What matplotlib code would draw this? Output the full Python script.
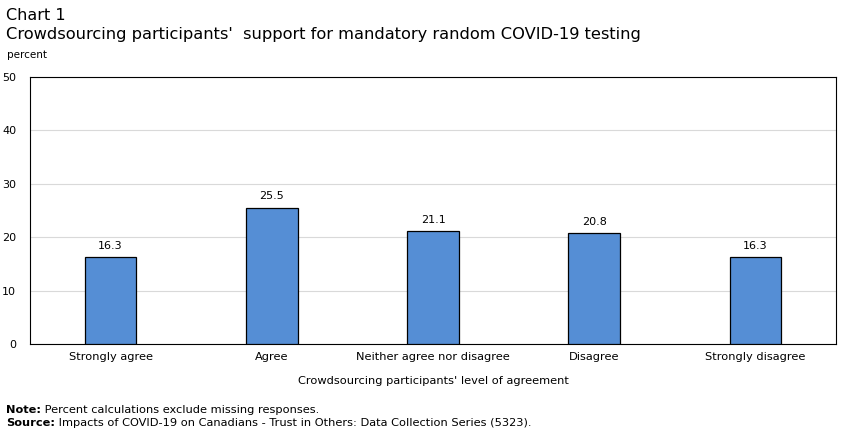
import matplotlib
matplotlib.use("Agg")
import matplotlib.pyplot as plt

categories = ["Strongly agree", "Agree", "Neither agree nor disagree", "Disagree", "Strongly disagree"]
values = [16.3, 25.5, 21.1, 20.8, 16.3]
yticks = [0, 10, 20, 30, 40, 50]

plt.rcParams['font.family'] = ['DejaVu Sans']

fig = plt.figure(figsize=(8.52, 4.36), dpi=100)
ax = fig.add_axes([30/852, 1-344/436, (836-30)/852, (344-77)/436])

x = list(range(len(categories)))
bars = ax.bar(x, values, width=0.32, color="#558ed5", edgecolor="black", linewidth=0.9, zorder=3)
for xi, v in zip(x, values):
    ax.text(xi, v + 1.2, f"{v:.1f}", ha="center", va="bottom", fontsize=8)

ax.set_xlim(-0.5, len(categories) - 0.5)
ax.set_ylim(0, 50)
ax.set_yticks(yticks)
ax.set_yticklabels([str(t) for t in yticks], fontsize=8)
ax.set_xticks(x)
ax.set_xticklabels(categories, fontsize=8.2)
ax.tick_params(axis="both", length=0, pad=6)
ax.tick_params(axis="y", pad=10)
ax.yaxis.grid(True, color="#d9d9d9", linewidth=0.8, zorder=0)
for s in ax.spines.values():
    s.set_linewidth(0.8)
    s.set_color("black")
ax.set_xlabel("Crowdsourcing participants' level of agreement", fontsize=8.2, labelpad=10)

fig.text(6/852, 1-15/436, "Chart 1", fontsize=11.5, va="center", ha="left")
fig.text(6/852, 1-35/436, "Crowdsourcing participants'  support for mandatory random COVID-19 testing", fontsize=11.7, va="center", ha="left")
fig.text(7/852, 1-55/436, "percent", fontsize=7.5, va="center", ha="left")

renderer = fig.canvas.get_renderer()
for ypix, bold, rest in [(410, "Note:", " Percent calculations exclude missing responses."),
                         (423, "Source:", " Impacts of COVID-19 on Canadians - Trust in Others: Data Collection Series (5323).")]:
    t = fig.text(6/852, 1-ypix/436, bold, fontsize=8.2, fontweight="bold", va="center", ha="left")
    bb = t.get_window_extent(renderer)
    fig.text(bb.x1/852, 1-ypix/436, rest, fontsize=8.2, va="center", ha="left")

fig.savefig("out.png", dpi=100)
